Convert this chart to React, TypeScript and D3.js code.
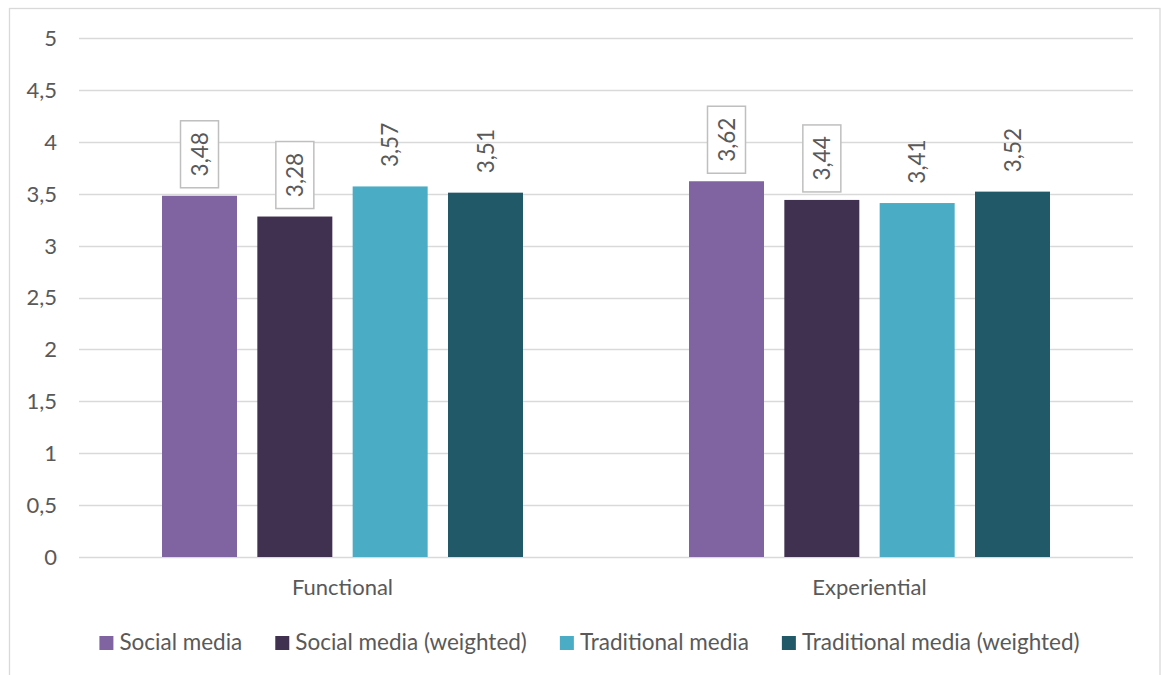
import React, { useEffect, useRef } from "react";
import * as d3 from "d3";

const categories = ["Functional", "Experiential"];
const seriesNames = [
  "Social media",
  "Social media (weighted)",
  "Traditional media",
  "Traditional media (weighted)",
];
const seriesColors = ["#8064A2", "#403151", "#4BACC6", "#215968"];
const functionalValues = [3.48, 3.28, 3.57, 3.51];
const experientialValues = [3.62, 3.44, 3.41, 3.52];
const boxedLabels = [true, true, false, false];
const yTicks = [0, 0.5, 1, 1.5, 2, 2.5, 3, 3.5, 4, 4.5, 5];

const FONT = "Lato, 'Open Sans', sans-serif";
const TEXT = "#595959";

export default function App() {
  const ref = useRef<SVGSVGElement>(null);

  useEffect(() => {
    const svg = d3.select(ref.current);
    svg.selectAll("*").remove();
    const left = 79, right = 1133, top = 38, bottom = 557;

    // outer border
    svg.append("rect")
      .attr("x", 9.5).attr("y", 8.5).attr("width", 1150.5).attr("height", 700)
      .attr("fill", "#fff").attr("stroke", "#d9d9d9").attr("stroke-width", 1.3);

    const y = d3.scaleLinear().domain([0, 5]).range([bottom, top]);
    const x0 = d3.scaleBand<string>().domain(categories).range([left, right]).padding(0);
    const x1 = d3.scaleBand<string>().domain(seriesNames)
      .range([0, x0.bandwidth()])
      .paddingInner(0.2133).paddingOuter(0.8707);

    // grid
    svg.append("g").selectAll("line").data(yTicks).join("line")
      .attr("x1", left).attr("x2", right)
      .attr("y1", (d) => Math.round(y(d)) + 0.5).attr("y2", (d) => Math.round(y(d)) + 0.5)
      .attr("stroke", "#d9d9d9").attr("stroke-width", 1.3);

    // y labels
    svg.append("g").selectAll("text").data(yTicks).join("text")
      .attr("x", 57).attr("y", (d) => y(d))
      .attr("dy", "0.36em")
      .attr("text-anchor", "end")
      .attr("font-family", FONT).attr("font-size", 22).attr("fill", TEXT)
      .text((d) => String(d).replace(".", ","));

    const data = [
      { cat: categories[0], values: functionalValues },
      { cat: categories[1], values: experientialValues },
    ];

    data.forEach((grp) => {
      const g = svg.append("g").attr("transform", `translate(${x0(grp.cat)},0)`);
      const rows = grp.values.map((v, i) => ({ v, name: seriesNames[i], color: seriesColors[i], boxed: boxedLabels[i] }));
      g.selectAll("rect.bar").data(rows).join("rect")
        .attr("class", "bar")
        .attr("x", (d) => x1(d.name)!)
        .attr("width", x1.bandwidth())
        .attr("y", (d) => y(d.v))
        .attr("height", (d) => y(0) - y(d.v))
        .attr("fill", (d) => d.color);

      const bw = 38, bh = 67, gap = 8;
      const lab = g.selectAll("g.lab").data(rows).join("g")
        .attr("class", "lab")
        .attr("transform", (d) => `translate(${x1(d.name)! + x1.bandwidth() / 2},${y(d.v) - gap - bh / 2})`);
      lab.filter((d) => d.boxed).append("rect")
        .attr("x", -bw / 2).attr("y", -bh / 2).attr("width", bw).attr("height", bh)
        .attr("fill", "#fff").attr("stroke", "#bfbfbf").attr("stroke-width", 1.5);
      lab.append("text")
        .attr("transform", "rotate(-90)")
        .attr("text-anchor", "middle")
        .attr("dy", "0.36em")
        .attr("font-family", FONT).attr("font-size", 22.5).attr("fill", TEXT)
        .text((d) => d.v.toFixed(2).replace(".", ","));
    });

    // category labels
    svg.append("g").selectAll("text").data(categories).join("text")
      .attr("x", (d) => x0(d)! + x0.bandwidth() / 2)
      .attr("y", 595)
      .attr("text-anchor", "middle")
      .attr("font-family", FONT).attr("font-size", 22).attr("fill", TEXT)
      .text((d) => d);

    // legend
    const lg = svg.append("g");
    const items = lg.selectAll("g").data(seriesNames).join("g");
    items.append("rect").attr("x", 0).attr("y", 636).attr("width", 14).attr("height", 14)
      .attr("fill", (d, i) => seriesColors[i]);
    items.append("text").attr("x", 20).attr("y", 650)
      .attr("font-family", FONT).attr("font-size", 22.5).attr("fill", TEXT)
      .text((d) => d);
    let cx = 0;
    const offsets: number[] = [];
    items.each(function () {
      const t = d3.select(this).select("text").node() as SVGTextElement;
      const w = 20 + t.getComputedTextLength();
      offsets.push(cx);
      cx += w + 33;
    });
    const total = cx - 33;
    const startX = 589.5 - total / 2;
    items.attr("transform", (d, i) => `translate(${startX + offsets[i]},0)`);
  }, []);

  return (
    <svg
      ref={ref}
      width={1161}
      height={675}
      style={{ position: "absolute", left: 0, top: 0, background: "#fff" }}
    />
  );
}
